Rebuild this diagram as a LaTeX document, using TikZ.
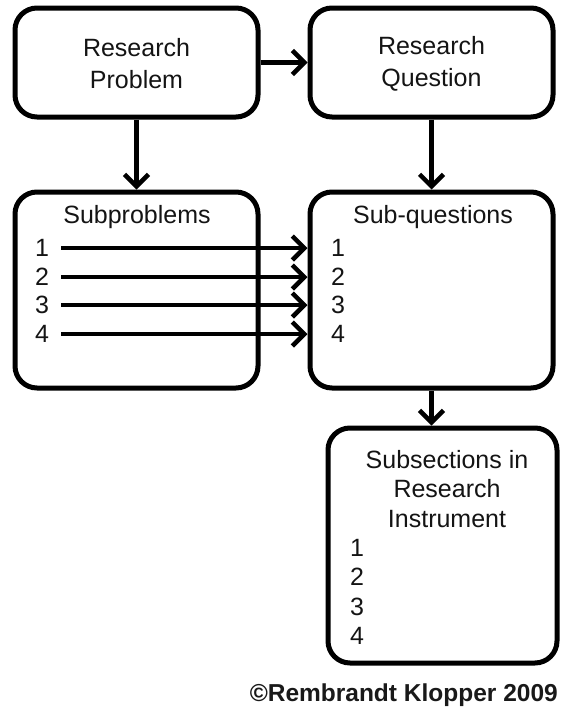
\documentclass[tikz,border=0pt]{standalone}
\usepackage{fontspec}
\setmainfont{Liberation Sans}
\usetikzlibrary{arrows.meta,shadows}
\tikzset{
  box/.style={draw=black, line width=5pt, rounded corners=22pt, fill=white,
    drop shadow={shadow xshift=1.5pt, shadow yshift=-1.5pt, opacity=0.25},
    inner sep=0pt},
  lbl/.style={font=\fontsize{25}{32}\selectfont, align=center, inner sep=0pt, text=black!92},
  num/.style={font=\fontsize{25}{28}\selectfont, inner sep=0pt, anchor=center, text=black!92},
  conn/.style={line width=4.5pt, -{Straight Barb[length=12pt,width=24pt,line width=4.5pt]}},
}
\begin{document}
\begin{tikzpicture}[x=1pt,y=-1pt]
\useasboundingbox (0,0) rectangle (562,715);
% boxes
\node[box, minimum width=243pt, minimum height=109pt] (rp) at (136.5,62.5) {};
\node[box, minimum width=243pt, minimum height=109pt] (rq) at (431.5,62.5) {};
\node[box, minimum width=243pt, minimum height=196pt] (sp) at (136.5,290) {};
\node[box, minimum width=243pt, minimum height=196pt] (sq) at (431.5,290) {};
\node[box, minimum width=229pt, minimum height=235pt] (si) at (442.5,545.5) {};
% texts
\node[lbl] (rpt) at (136.5,64) {Research\\Problem};
\node[lbl] (rqt) at (431.5,64) {Research\\Question};
\node[lbl] (spt) at (137,217) {Subproblems};
\node[lbl] (sqt) at (433,217) {Sub-questions};
\node[lbl, font=\fontsize{25}{29.5}\selectfont] (sit) at (447,489) {Subsections in\\Research\\Instrument};
\foreach \i/\y in {1/248,2/277,3/305,4/334}{
  \node[num] (sp\i) at (42,\y) {\i};
  \node[num] (sq\i) at (338,\y) {\i};
}
\foreach \i/\y in {1/548,2/577,3/607,4/636}{
  \node[num] (si\i) at (357,\y) {\i};
}
% connectors
\draw[conn] (rp.east) -- (rq.west);
\draw[conn] (rp.south) -- (sp.north);
\draw[conn] (rq.south) -- (sq.north);
\draw[conn] (sq.south) -- (si.north -| sq.south);
\foreach \i in {1,2,3,4}{
  \draw[conn] ([xshift=12pt]sp\i.east) -- (sp\i.east -| sq.west);
}
% credit
\node[anchor=east, inner sep=0pt, font=\bfseries\fontsize{24.5}{28}\selectfont, text=black!90] (cr) at (558,695) {©Rembrandt Klopper 2009};
\end{tikzpicture}
\end{document}
